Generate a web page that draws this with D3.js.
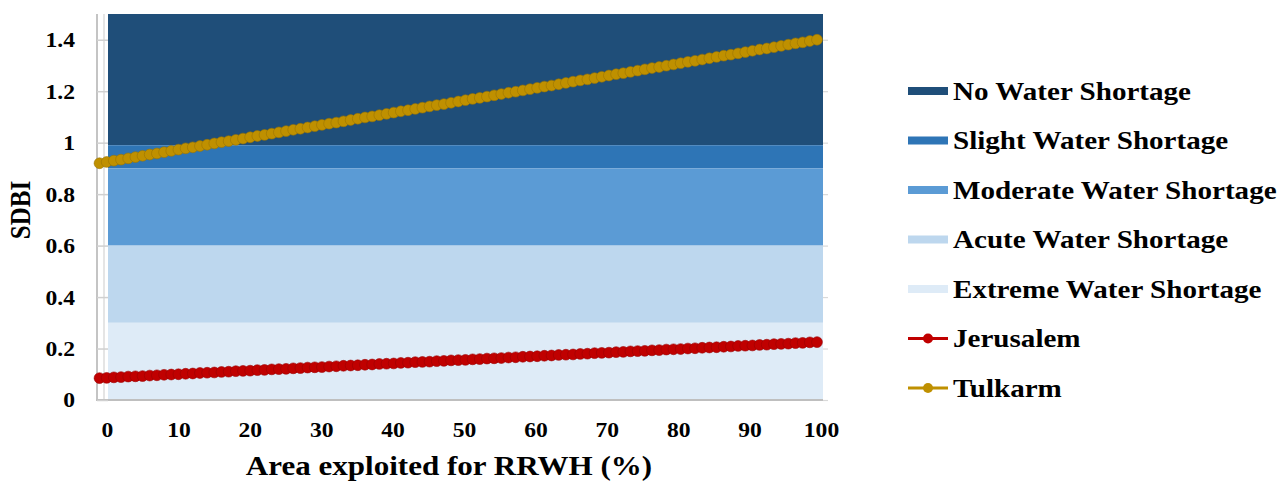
<!DOCTYPE html>
<html><head><meta charset="utf-8">
<script src="https://cdn.jsdelivr.net/npm/d3@7"></script>
<style>
body{margin:0;background:#fff}
text{font-family:"Liberation Serif","Times New Roman",serif;font-weight:bold;fill:#000}
</style>
</head><body>
<svg id="c" width="1281" height="481"></svg>
<script>
// ---------- data ----------
const areaPct = [0,1,2,3,4,5,6,7,8,9,10,11,12,13,14,15,16,17,18,19,20,21,22,23,24,25,26,27,28,29,30,31,32,33,34,35,36,37,38,39,40,41,42,43,44,45,46,47,48,49,50,51,52,53,54,55,56,57,58,59,60,61,62,63,64,65,66,67,68,69,70,71,72,73,74,75,76,77,78,79,80,81,82,83,84,85,86,87,88,89,90,91,92,93,94,95,96,97,98,99,100];
const jerusalem = [0.085,0.086,0.088,0.089,0.091,0.092,0.093,0.095,0.096,0.098,0.099,0.100,0.102,0.103,0.105,0.106,0.107,0.109,0.110,0.112,0.113,0.114,0.116,0.117,0.119,0.120,0.121,0.123,0.124,0.126,0.127,0.128,0.130,0.131,0.133,0.134,0.135,0.137,0.138,0.140,0.141,0.142,0.144,0.145,0.147,0.148,0.149,0.151,0.152,0.154,0.155,0.156,0.158,0.159,0.161,0.162,0.163,0.165,0.166,0.168,0.169,0.170,0.172,0.173,0.175,0.176,0.177,0.179,0.180,0.182,0.183,0.184,0.186,0.187,0.189,0.190,0.191,0.193,0.194,0.196,0.197,0.198,0.200,0.201,0.203,0.204,0.205,0.207,0.208,0.210,0.211,0.212,0.214,0.215,0.217,0.218,0.219,0.221,0.222,0.224,0.225];
const tulkarm = [0.920,0.925,0.930,0.934,0.939,0.944,0.949,0.954,0.958,0.963,0.968,0.973,0.978,0.982,0.987,0.992,0.997,1.002,1.006,1.011,1.016,1.021,1.026,1.030,1.035,1.040,1.045,1.050,1.054,1.059,1.064,1.069,1.074,1.078,1.083,1.088,1.093,1.098,1.102,1.107,1.112,1.117,1.122,1.126,1.131,1.136,1.141,1.146,1.150,1.155,1.160,1.165,1.170,1.174,1.179,1.184,1.189,1.194,1.198,1.203,1.208,1.213,1.218,1.222,1.227,1.232,1.237,1.242,1.246,1.251,1.256,1.261,1.266,1.270,1.275,1.280,1.285,1.290,1.294,1.299,1.304,1.309,1.314,1.318,1.323,1.328,1.333,1.338,1.342,1.347,1.352,1.357,1.362,1.366,1.371,1.376,1.381,1.386,1.390,1.395,1.400];
const bandNames = ["No Water Shortage","Slight Water Shortage","Moderate Water Shortage","Acute Water Shortage","Extreme Water Shortage"];
const bandLower = [0.99,0.9,0.6,0.3,0];
const bandUpper = [1.5,0.99,0.9,0.6,0.3];
const bandColors = ["#1F4E79","#2E75B6","#5B9BD5","#BDD7EE","#DEEBF7"];
const seriesNames = ["Jerusalem","Tulkarm"];
const seriesColors = ["#C00000","#BF9000"];
const seriesStroke = ["#9a0000","#9a7400"];
const yTickValues = [0,0.2,0.4,0.6,0.8,1,1.2,1.4];
const yTickLabels = ["0","0.2","0.4","0.6","0.8","1","1.2","1.4"];
const xTickValues = [0,10,20,30,40,50,60,70,80,90,100];
const xTickLabels = ["0","10","20","30","40","50","60","70","80","90","100"];
const xTitle = "Area exploited for RRWH (%)";
const yTitle = "SDBI";

// ---------- layout ----------
const SX = 1.15; // horizontal stretch of text
const svg = d3.select("#c");
const y = d3.scaleLinear().domain([0,1.5]).range([400,14]);
const xb = d3.scaleLinear().domain([0,100]).range([108,822]);
const xl = d3.scaleLinear().domain([0,100]).range([99.5,817]);

// bands
svg.append("g").selectAll("rect").data(bandNames).join("rect")
  .attr("x", xb(0)).attr("width", xb(100)-xb(0)+1)
  .attr("y", (d,i)=>y(bandUpper[i]))
  .attr("height", (d,i)=>y(bandLower[i])-y(bandUpper[i]))
  .attr("fill", (d,i)=>bandColors[i]);

// axis lines
svg.append("line").attr("x1",97).attr("x2",97).attr("y1",y(1.5)).attr("y2",y(0)+1)
  .attr("stroke","#c4c4c4").attr("stroke-width",2);
svg.append("line").attr("x1",104).attr("x2",104).attr("y1",y(1.5)).attr("y2",y(0))
  .attr("stroke","#dcdcdc").attr("stroke-width",1.5);
svg.append("line").attr("x1",96).attr("x2",xb(100)+1).attr("y1",y(0)).attr("y2",y(0))
  .attr("stroke","#bfbfbf").attr("stroke-width",2);

// y axis
const ya = svg.append("g").attr("transform","translate(108,0)")
  .call(d3.axisLeft(y).tickValues(yTickValues).tickSize(11).tickFormat((d,i)=>yTickLabels[i]));
ya.select(".domain").remove();
ya.selectAll(".tick line").attr("stroke","#d0d0d0").attr("stroke-width",1.5);
ya.selectAll(".tick text").attr("x",0).attr("dy","0.34em")
  .attr("transform",`translate(-33,0) scale(${SX},1)`)
  .style("font-size","20.5px").attr("text-anchor","end");
// right small ticks
const yr = svg.append("g").attr("transform",`translate(${xb(100)+1},0)`)
  .call(d3.axisRight(y).tickValues(yTickValues).tickSize(5).tickFormat(""));
yr.select(".domain").remove();
yr.selectAll(".tick line").attr("stroke","#d9d9d9").attr("stroke-width",1.2);

// x axis
const xa = svg.append("g").attr("transform",`translate(0,${y(0)})`)
  .call(d3.axisBottom(xb).tickValues(xTickValues).tickSize(0).tickFormat((d,i)=>xTickLabels[i]));
xa.select(".domain").remove();
xa.selectAll(".tick text").attr("y",0).attr("dy",0)
  .attr("transform",`translate(-1,37) scale(${SX},1)`)
  .style("font-size","20.5px");

// titles
svg.append("text").text(xTitle)
  .attr("transform",`translate(449,475) scale(${SX},1)`)
  .attr("text-anchor","middle").style("font-size","27px");
svg.append("text").text(yTitle)
  .attr("transform",`translate(30,210) scale(${SX},1) rotate(-90)`)
  .attr("text-anchor","middle").style("font-size","25px");

// series
const series = [jerusalem, tulkarm];
series.forEach((vals,si)=>{
  const g = svg.append("g");
  const line = d3.line().x((d,i)=>xl(areaPct[i])).y(d=>y(d));
  g.append("path").datum(vals).attr("d",line).attr("fill","none")
    .attr("stroke",seriesColors[si]).attr("stroke-width",3);
  g.selectAll("circle").data(vals).join("circle")
    .attr("cx",(d,i)=>xl(areaPct[i])).attr("cy",d=>y(d)).attr("r",5.4)
    .attr("fill",seriesColors[si]).attr("stroke",seriesStroke[si]).attr("stroke-width",0.6);
});

// legend
const lx = 908, lw = 40, ly0 = 91, ldy = 49.5;
const leg = svg.append("g");
bandNames.forEach((n,i)=>{
  const cy = ly0 + i*ldy;
  leg.append("rect").attr("x",lx).attr("y",cy-4).attr("width",lw).attr("height",8).attr("fill",bandColors[i]);
  leg.append("text").text(n).attr("transform",`translate(953,${cy}) scale(${SX},1)`)
    .attr("dy","0.35em").style("font-size","25.3px");
});
seriesNames.forEach((n,i)=>{
  const cy = ly0 + (bandNames.length+i)*ldy;
  leg.append("line").attr("x1",lx).attr("x2",lx+lw).attr("y1",cy).attr("y2",cy)
    .attr("stroke",seriesColors[i]).attr("stroke-width",3);
  leg.append("circle").attr("cx",lx+lw/2).attr("cy",cy).attr("r",5).attr("fill",seriesColors[i]);
  leg.append("text").text(n).attr("transform",`translate(953,${cy}) scale(${SX},1)`)
    .attr("dy","0.35em").style("font-size","25.3px");
});
</script>
</body></html>
